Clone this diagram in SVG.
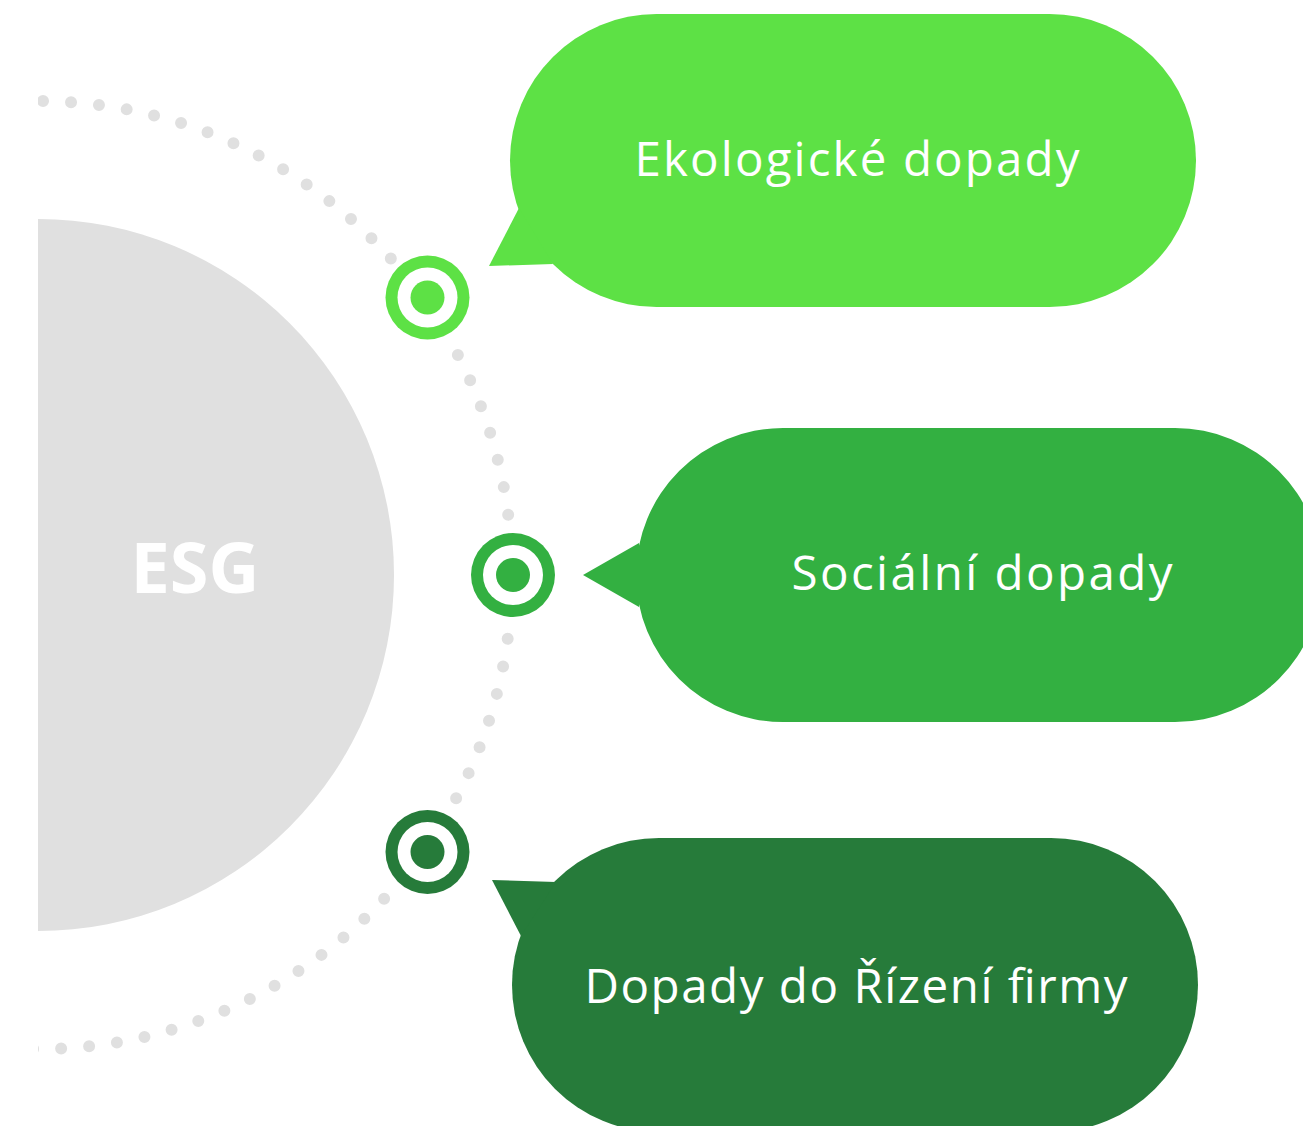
<svg xmlns="http://www.w3.org/2000/svg" width="1303" height="1126" viewBox="0 0 1303 1126">
  <style>
    .dots { fill: none; stroke: #e0e0e0; stroke-width: 12; stroke-linecap: round; stroke-dasharray: 0 28.06; }
    .label { font-family: "Open Sans", "Liberation Sans", sans-serif; font-size: 47.5px; fill: #ffffff; text-anchor: middle; }
  </style>
  <defs>
    <clipPath id="leftClip">
      <rect x="38" y="0" width="1265" height="1126"/>
    </clipPath>
  </defs>
  <rect x="0" y="0" width="1303" height="1126" fill="#ffffff"/>

  <g id="esg" clip-path="url(#leftClip)">
    <circle cx="38" cy="575" r="356" fill="#e0e0e0"/>
    <text x="195" y="592.5" font-family="'Open Sans', 'Liberation Sans', sans-serif" font-weight="700" font-size="70" fill="#ffffff" text-anchor="middle" textLength="129" lengthAdjust="spacingAndGlyphs">ESG</text>
  </g>

  <g id="connectors" clip-path="url(#leftClip)">
    <path class="dots" d="M 43.02 101.03 A 474 474 0 0 1 393.92 261.96"/>
    <path class="dots" d="M 457.86 355.02 A 474 474 0 0 1 508.74 519.48"/>
    <path class="dots" d="M 507.68 638.84 A 474 474 0 0 1 453.91 802.37"/>
    <path class="dots" d="M 384.11 898.86 A 474 474 0 0 1 28.42 1048.90"/>
  </g>

  <g id="marker-eco">
    <circle cx="427.5" cy="297.5" r="42" fill="#5de145"/>
    <circle cx="427.5" cy="297.5" r="30" fill="#ffffff"/>
    <circle cx="427.5" cy="297.5" r="17" fill="#5de145"/>
  </g>
  <g id="marker-soc">
    <circle cx="513" cy="575" r="42" fill="#33b041"/>
    <circle cx="513" cy="575" r="30" fill="#ffffff"/>
    <circle cx="513" cy="575" r="17" fill="#33b041"/>
  </g>
  <g id="marker-gov">
    <circle cx="427.5" cy="852" r="42" fill="#267b3a"/>
    <circle cx="427.5" cy="852" r="30" fill="#ffffff"/>
    <circle cx="427.5" cy="852" r="17" fill="#267b3a"/>
  </g>

  <g id="bubble-eco" fill="#5de145">
    <path d="M 656.5 14 H 1049.5 A 146.5 146.5 0 0 1 1049.5 307 H 656.5 A 146.5 146.5 0 0 1 656.5 14 Z"/>
    <polygon points="519,208 489,266 553,264"/>
    <text class="label" x="857" y="176" textLength="445">Ekologické dopady</text>
  </g>

  <g id="bubble-soc" fill="#33b041">
    <path d="M 783 428 H 1175 A 147 147 0 0 1 1175 722 H 783 A 147 147 0 0 1 783 428 Z"/>
    <polygon points="583,575 639,543 639,607"/>
    <text class="label" x="982" y="590" textLength="381">Sociální dopady</text>
  </g>

  <g id="bubble-gov" fill="#267b3a">
    <path d="M 659 838 H 1051 A 147 147 0 0 1 1051 1132 H 659 A 147 147 0 0 1 659 838 Z"/>
    <polygon points="492,880 556,882 521,936"/>
    <text class="label" x="856" y="1003" textLength="543">Dopady do Řízení firmy</text>
  </g>
</svg>
